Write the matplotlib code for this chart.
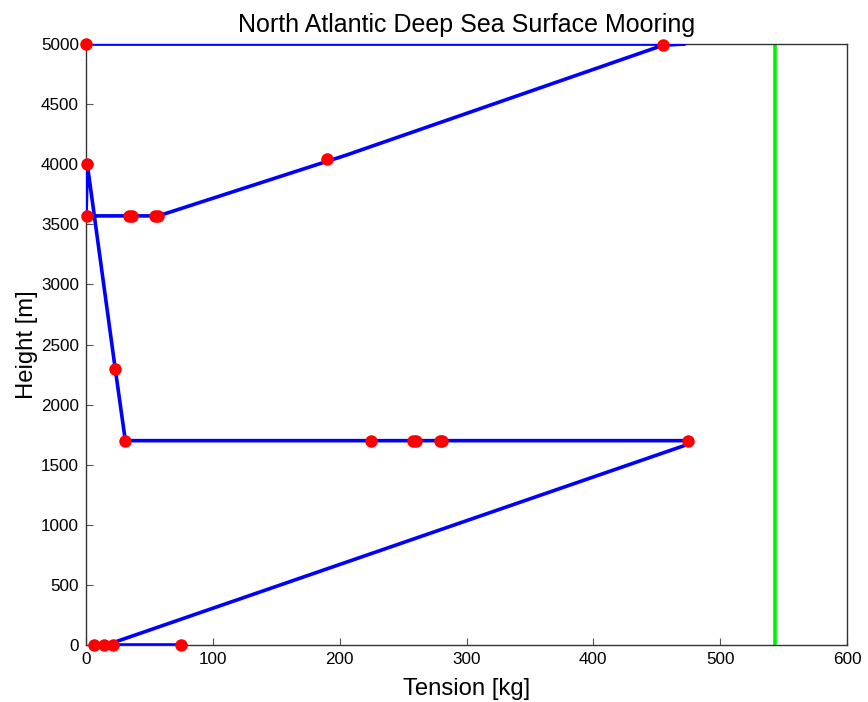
import matplotlib
matplotlib.use("Agg")
import matplotlib.pyplot as plt

plt.rcParams['font.family'] = ['Liberation Sans', 'DejaVu Sans']

# Mooring line (tension vs height)
line_tension = [75, 16, 472, 475, 31, 23, 1, 0, 57, 205, 455, 472, 0]
line_height = [0, 0, 1660, 1700, 1700, 2300, 4000, 3570, 3570, 4075, 4990, 5000, 5000]

# Instrument / element positions
pt_tension = [0, 455, 190, 1, 1, 34, 36, 54, 57, 23, 31, 225, 258, 260, 279, 281, 475, 6, 14, 21, 75]
pt_height = [5000, 4990, 4045, 4000, 3570, 3570, 3570, 3570, 3570, 2300, 1700, 1700, 1700,
             1700, 1700, 1700, 1700, 0, 0, 0, 0]

# Breaking strength limit
limit_tension = 543

fig = plt.figure(figsize=(8.68, 7.02), dpi=100)
ax = fig.add_axes([0.0991, 0.0812, 0.8767, 0.8561])

ax.plot(line_tension, line_height, color=(0, 0, 1), linewidth=2.6, zorder=3)
ax.plot(pt_tension, pt_height, 'o', color=(1, 0, 0), markersize=9, markeredgewidth=0,
        linestyle='none', zorder=4, clip_on=False)
ax.axvline(limit_tension, color=(0, 0.95, 0), linewidth=2.6, zorder=2)

ax.set_xlim(0, 600)
ax.set_ylim(0, 5000)
ax.set_xticks(range(0, 601, 100))
ax.set_yticks(range(0, 5001, 500))
ax.tick_params(direction='in', length=5, labelsize=12.3, color='#555555', width=0.8, pad=5)
for s in ax.spines.values():
    s.set_color('#333333')
    s.set_linewidth(1.0)

ax.set_title('North Atlantic Deep Sea Surface Mooring', fontsize=18, pad=9)
ax.set_xlabel('Tension [kg]', fontsize=17.2, labelpad=8)
ax.set_ylabel('Height [m]', fontsize=17.2, labelpad=2)

fig.savefig('out.png', dpi=100)
